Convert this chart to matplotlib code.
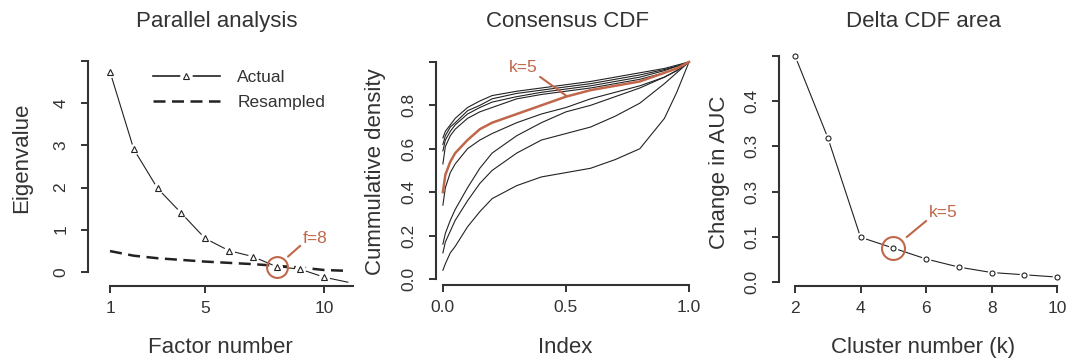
import matplotlib
matplotlib.use("Agg")
import matplotlib.pyplot as plt
from matplotlib.lines import Line2D

plt.rcParams["font.family"] = ["Liberation Sans", "DejaVu Sans"]

INK = "#333333"
ORANGE = "#C0674B"

# --- parallel analysis -------------------------------------------------
factor = [1, 2, 3, 4, 5, 6, 7, 8, 9, 10, 11]
eig_actual = [4.75, 2.91, 1.98, 1.39, 0.79, 0.50, 0.36, 0.12, 0.06, -0.13, -0.25]
eig_resampled = [0.49, 0.38, 0.32, 0.28, 0.24, 0.21, 0.18, 0.14, 0.10, 0.04, 0.02]

# --- consensus CDF (k = 2..10), sampled on an index grid ---------------
cdf_index = [0, 0.01, 0.03, 0.05, 0.1, 0.15, 0.2, 0.3, 0.4, 0.5, 0.6, 0.7, 0.8, 0.9, 0.95, 1.0]
cdf_black = [
    [0.04, 0.07, 0.12, 0.15, 0.24, 0.31, 0.37, 0.43, 0.47, 0.49, 0.51, 0.55, 0.60, 0.74, 0.86, 1.0],
    [0.12, 0.17, 0.22, 0.27, 0.36, 0.44, 0.50, 0.58, 0.64, 0.67, 0.70, 0.75, 0.81, 0.90, 0.95, 1.0],
    [0.16, 0.21, 0.27, 0.32, 0.42, 0.51, 0.58, 0.66, 0.72, 0.77, 0.80, 0.84, 0.88, 0.93, 0.96, 1.0],
    [0.34, 0.42, 0.49, 0.53, 0.60, 0.64, 0.67, 0.72, 0.76, 0.79, 0.83, 0.86, 0.89, 0.93, 0.96, 1.0],
    [0.53, 0.61, 0.66, 0.69, 0.74, 0.77, 0.79, 0.83, 0.85, 0.865, 0.88, 0.90, 0.92, 0.95, 0.97, 1.0],
    [0.59, 0.64, 0.68, 0.71, 0.76, 0.79, 0.815, 0.84, 0.86, 0.875, 0.89, 0.91, 0.93, 0.96, 0.98, 1.0],
    [0.62, 0.66, 0.70, 0.72, 0.775, 0.80, 0.83, 0.855, 0.87, 0.885, 0.90, 0.92, 0.94, 0.965, 0.98, 1.0],
    [0.65, 0.68, 0.71, 0.74, 0.79, 0.82, 0.845, 0.865, 0.88, 0.895, 0.91, 0.93, 0.95, 0.97, 0.985, 1.0],
]
cdf_k5 = [0.40, 0.48, 0.54, 0.58, 0.64, 0.69, 0.72, 0.76, 0.80, 0.84, 0.87, 0.89, 0.91, 0.95, 0.97, 1.0]

# --- delta area ----------------------------------------------------------
k_values = [2, 3, 4, 5, 6, 7, 8, 9, 10]
delta_auc = [0.50, 0.319, 0.099, 0.075, 0.051, 0.033, 0.021, 0.016, 0.011]
auc_ticks = [0.0, 0.1, 0.2, 0.3, 0.4, 0.5]
auc_ticklabels = ["0.0", "0.1", "0.3", "0.3", "0.4", ""]

W, H = 1073, 363
fig = plt.figure(figsize=(W / 100, H / 100), dpi=100)


def add_ax(left, top, right, bottom):
    return fig.add_axes([left / W, 1 - bottom / H, (right - left) / W, (bottom - top) / H])


def fx(px):
    return px / W


def fy(py):
    return 1 - py / H


def style(ax):
    for s in ("top", "right"):
        ax.spines[s].set_visible(False)
    for s in ("left", "bottom"):
        ax.spines[s].set_linewidth(1.5)
        ax.spines[s].set_color(INK)
    ax.patch.set_visible(False)
    ax.tick_params(direction="out", length=5, width=1.4, color=INK,
                   labelcolor=INK, labelsize=12.5)
    ax.tick_params(axis="x", pad=6)
    ax.tick_params(axis="y", pad=9, labelrotation=90)
    for lab in ax.get_yticklabels():
        lab.set_va("center")


LBL = 16
DASH = (0, (4.8, 2.6))
# ---------------------------------------------------------------- panel 1
ax1 = add_ax(88, 55, 355, 286)
ax1.set_xlim(0.075, 11.3)
ax1.set_ylim(-0.34, 5.15)
ax1.plot(factor, eig_resampled, ls=DASH, lw=1.8, color="#222222", zorder=2)
ax1.plot(factor, eig_actual, lw=0.8, color="#222222", zorder=3)
ax1.plot(factor[:10], eig_actual[:10], ls="none", marker="o", ms=8, mfc="white",
         mec="none", zorder=4)
ax1.plot(factor[:10], eig_actual[:10], ls="none", marker="^", ms=5, mfc="white",
         mec="#222222", mew=0.8, zorder=5)
ax1.plot([8], [eig_actual[7]], ls="none", marker="o", ms=15, mfc="none", mec=ORANGE,
         mew=1.5, zorder=6)
ax1.annotate("f=8", xy=(8, eig_actual[7]), xytext=(28, 20), textcoords="offset points",
             color=ORANGE, fontsize=12.5, ha="center", va="center",
             arrowprops=dict(arrowstyle="-", color=ORANGE, lw=1.5, shrinkA=0, shrinkB=11,
                             relpos=(0, 0.2)))
ax1.set_xticks([1, 5, 10])
ax1.set_yticks([0, 1, 2, 3, 4, 5])
ax1.set_yticklabels(["0", "1", "2", "3", "4", ""])
ax1.spines["left"].set_bounds(0, 5)
ax1.spines["bottom"].set_bounds(1, 11.2)
style(ax1)
act_handle = (Line2D([], [], lw=1.2, color="#222222"),
              Line2D([], [], ls="none", marker="o", ms=9, mfc="white", mec="none"),
              Line2D([], [], ls="none", marker="^", ms=5, mfc="white", mec="#222222", mew=0.8))
res_handle = Line2D([], [], ls=DASH, lw=1.8, color="#222222")
leg = ax1.legend([act_handle, res_handle], ["Actual", "Resampled"], frameon=False,
                 fontsize=12.5, handlelength=3.85, handletextpad=1.0, labelspacing=0.55,
                 borderpad=0, borderaxespad=0, loc="upper left",
                 bbox_to_anchor=(fx(153), fy(70)), bbox_transform=fig.transFigure)
for t in leg.get_texts():
    t.set_color(INK)

# ---------------------------------------------------------------- panel 2
ax2 = add_ax(436, 55, 692, 285)
ax2.set_xlim(-0.028, 1.012)
ax2.set_ylim(-0.028, 1.032)
for ys in cdf_black:
    ax2.plot(cdf_index, ys, lw=0.8, color="#222222", zorder=2)
ax2.plot(cdf_index, cdf_k5, lw=1.8, color=ORANGE, zorder=3)
ax2.annotate("k=5", xy=(0.5, 0.845), xytext=(0.325, 0.975), textcoords="data",
             color=ORANGE, fontsize=12.5, ha="center", va="center",
             arrowprops=dict(arrowstyle="-", color=ORANGE, lw=1.5, shrinkA=0, shrinkB=0,
                             relpos=(1, 0)))
ax2.set_xticks([0, 0.5, 1.0])
ax2.set_xticklabels(["0.0", "0.5", "1.0"])
ax2.set_yticks([0, 0.2, 0.4, 0.6, 0.8, 1.0])
ax2.set_yticklabels(["0.0", "0.2", "0.4", "0.6", "0.8", ""])
ax2.spines["left"].set_bounds(0, 1)
ax2.spines["bottom"].set_bounds(0, 1)
style(ax2)

# ---------------------------------------------------------------- panel 3
ax3 = add_ax(779, 50, 1062, 286)
ax3.set_xlim(1.51, 10.15)
ax3.set_ylim(-0.0088, 0.513)
ax3.plot(k_values, delta_auc, lw=0.8, color="#222222", zorder=2)
ax3.plot(k_values, delta_auc, ls="none", marker="o", ms=7, mfc="white", mec="none", zorder=3)
ax3.plot(k_values, delta_auc, ls="none", marker="o", ms=3.6, mfc="white", mec="#222222",
         mew=0.8, zorder=4)
ax3.plot([5], [delta_auc[3]], ls="none", marker="o", ms=16.5, mfc="none", mec=ORANGE,
         mew=1.5, zorder=5)
ax3.annotate("k=5", xy=(5, delta_auc[3]), xytext=(36, 25.5), textcoords="offset points",
             color=ORANGE, fontsize=12.5, ha="center", va="center",
             arrowprops=dict(arrowstyle="-", color=ORANGE, lw=1.5, shrinkA=0, shrinkB=12.5,
                             relpos=(0, 0.1)))
ax3.set_xticks([2, 4, 6, 8, 10])
ax3.set_yticks(auc_ticks)
ax3.set_yticklabels(auc_ticklabels)
ax3.spines["left"].set_bounds(0, 0.5)
ax3.spines["bottom"].set_bounds(2, 10)
style(ax3)

# ---------------------------------------------------------------- labels
titles = [("Parallel analysis", 217), ("Consensus CDF", 568), ("Delta CDF area", 923)]
for txt, x in titles:
    fig.text(fx(x), fy(27), txt, ha="center", va="baseline", fontsize=LBL, color=INK)
xlabels = [("Factor number", 220), ("Index", 565), ("Cluster number (k)", 923)]
for txt, x in xlabels:
    fig.text(fx(x), fy(353), txt, ha="center", va="baseline", fontsize=LBL, color=INK)
ylabels = [("Eigenvalue", 22, 158), ("Cummulative density", 375, 172), ("Change in AUC", 720, 172)]
for txt, x, y in ylabels:
    fig.text(fx(x), fy(y), txt, ha="center", va="center", rotation=90, fontsize=LBL, color=INK)

fig.savefig("out.png", dpi=100)
